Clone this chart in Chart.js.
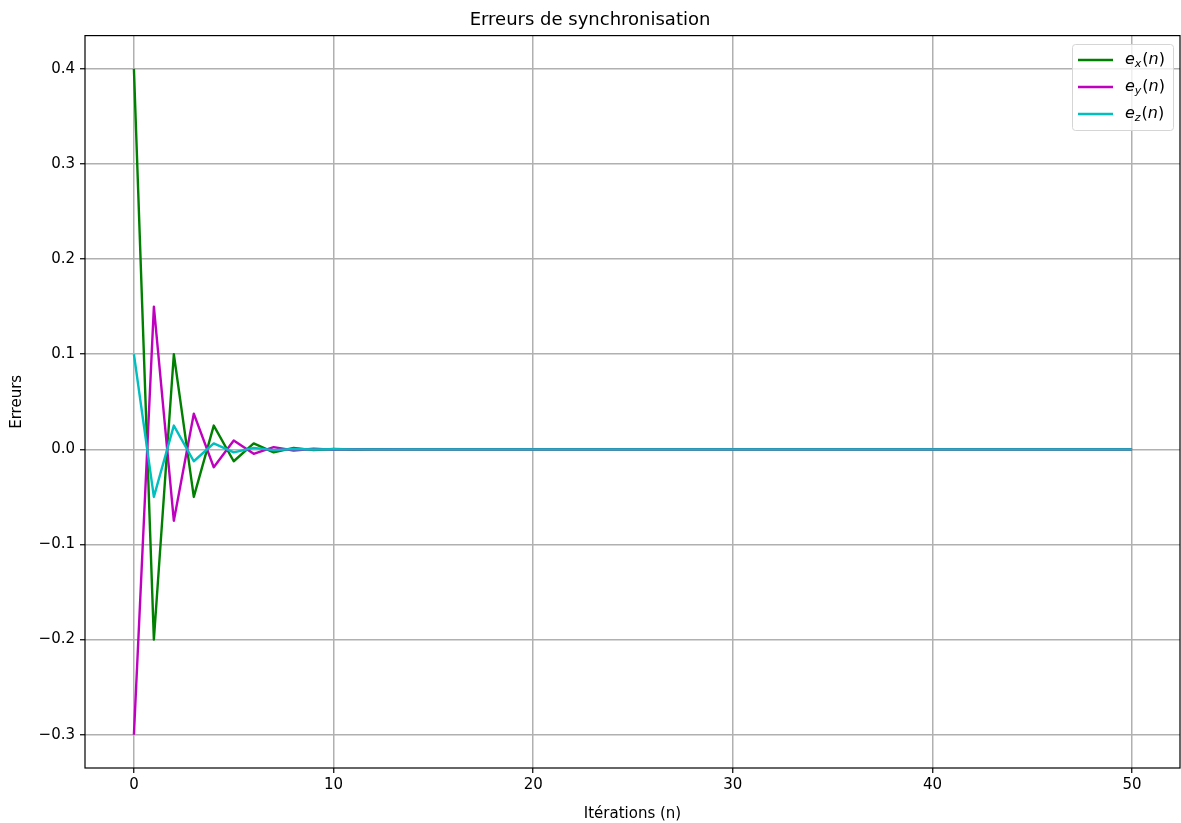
<!DOCTYPE html>
<html><head><meta charset="utf-8">
<script src="https://cdn.jsdelivr.net/npm/chart.js@4"></script>
<style>html,body{margin:0;padding:0;background:#fff}#wrap{width:1181px;height:823px;position:relative}</style>
</head><body><div id="wrap"><canvas id="c"></canvas></div>
<script>
const iterations = [0,1,2,3,4,5,6,7,8,9,10,11,12,13,14,15,16,17,18,19,20,21,22,23,24,25,26,27,28,29,30,31,32,33,34,35,36,37,38,39,40,41,42,43,44,45,46,47,48,49,50];
const ex = [0.4,-0.2,0.1,-0.05,0.025,-0.0125,0.0062,-0.0031,0.0016,-0.0008,0.0004,-0.0002,0.0001,-0.00005,0.00002,0,0,0,0,0,0,0,0,0,0,0,0,0,0,0,0,0,0,0,0,0,0,0,0,0,0,0,0,0,0,0,0,0,0,0,0];
const ey = [-0.3,0.15,-0.075,0.0375,-0.0188,0.0094,-0.0047,0.0023,-0.0012,0.0006,-0.0003,0.00015,-0.00007,0.00004,-0.00002,0,0,0,0,0,0,0,0,0,0,0,0,0,0,0,0,0,0,0,0,0,0,0,0,0,0,0,0,0,0,0,0,0,0,0,0];
const ez = [0.1,-0.05,0.025,-0.0125,0.0062,-0.0031,0.0016,-0.0008,0.0004,-0.0002,0.0001,-0.00005,0.00002,0,0,0,0,0,0,0,0,0,0,0,0,0,0,0,0,0,0,0,0,0,0,0,0,0,0,0,0,0,0,0,0,0,0,0,0,0,0];
const seriesNames = [['e','x'],['e','y'],['e','z']];
const seriesColors = ['#008000','#bf00bf','#00bfbf'];
const xTicks = [0,10,20,30,40,50];
const yTicks = [-0.3,-0.2,-0.1,0.0,0.1,0.2,0.3,0.4];

const FONT = "'DejaVu Sans', sans-serif";
const toPts = arr => arr.map((v,i)=>({x:iterations[i], y:v}));
const datasets = [ex,ey,ez].map((arr,i)=>({
  data: toPts(arr), borderColor: seriesColors[i], backgroundColor: seriesColors[i],
  borderWidth: 2.4, pointRadius: 0, tension: 0, fill: false, order: 3-i,
  borderJoinStyle:'round', borderCapStyle:'butt'
}));

const frame = {
  id:'frame',
  afterDraw(chart){
    const {ctx, chartArea:a} = chart;
    ctx.save();
    ctx.strokeStyle='#000'; ctx.lineWidth=1.2;
    ctx.strokeRect(a.left, a.top, a.right-a.left, a.bottom-a.top);
    // legend
    const bx=1072, by=44, bw=101, bh=86;
    ctx.fillStyle='rgba(255,255,255,0.8)';
    ctx.strokeStyle='#d5d5d5'; ctx.lineWidth=1;
    ctx.beginPath();
    if (ctx.roundRect) ctx.roundRect(bx+0.5,by+0.5,bw,bh,3); else ctx.rect(bx+0.5,by+0.5,bw,bh);
    ctx.fill(); ctx.stroke();
    seriesNames.forEach((n,i)=>{
      const y = 60 + i*27;
      ctx.strokeStyle=seriesColors[i]; ctx.lineWidth=2.4;
      ctx.beginPath(); ctx.moveTo(1078,y); ctx.lineTo(1113,y); ctx.stroke();
      ctx.fillStyle='#000'; ctx.textBaseline='middle'; ctx.textAlign='left';
      let x = 1125;
      ctx.font = "italic 16px " + FONT; ctx.fillText(n[0], x, y); x += ctx.measureText(n[0]).width;
      ctx.font = "italic 11px " + FONT; ctx.fillText(n[1], x, y+4); x += ctx.measureText(n[1]).width+1;
      ctx.font = "16px " + FONT; ctx.fillText('(', x, y); x += ctx.measureText('(').width;
      ctx.font = "italic 16px " + FONT; ctx.fillText('n', x, y); x += ctx.measureText('n').width;
      ctx.font = "16px " + FONT; ctx.fillText(')', x, y);
    });
    ctx.restore();
  }
};

const fmt = v => { const s = Math.abs(v).toFixed(1); return v < -1e-9 ? '\u2212'+s : s; };

new Chart(document.getElementById('c'), {
  type:'line',
  data:{datasets},
  options:{
    responsive:true, maintainAspectRatio:false, animation:false,
    layout:{padding:{left:0,right:1,top:0,bottom:0}},
    plugins:{
      legend:{display:false}, tooltip:{enabled:false},
      title:{display:true, text:'Erreurs de synchronisation', color:'#000',
        font:{family:FONT, size:18, weight:'normal'}, padding:{top:10,bottom:4}}
    },
    scales:{
      x:{type:'linear', min:-2.45, max:52.4,
        afterBuildTicks(s){ s.ticks = xTicks.map(v=>({value:v})); },
        afterFit(s){ s.height = 55; },
        grid:{color:'#b0b0b0', lineWidth:1.5, tickColor:'#000', tickLength:5, tickWidth:1.2, drawTicks:true},
        border:{display:false},
        ticks:{color:'#000', font:{family:FONT,size:15}, padding:3, maxRotation:0, callback:v=>String(v)},
        title:{display:true, text:'Itérations (n)', color:'#000', font:{family:FONT,size:15}, padding:{top:2,bottom:0}}
      },
      y:{type:'linear', min:-0.335, max:0.435,
        afterBuildTicks(s){ s.ticks = yTicks.map(v=>({value:v})); },
        afterFit(s){ s.width = 85; },
        grid:{color:'#b0b0b0', lineWidth:1.5, tickColor:'#000', tickLength:5, tickWidth:1.2, drawTicks:true},
        border:{display:false},
        ticks:{color:'#000', font:{family:FONT,size:15}, padding:5, callback:v=>fmt(v)},
        title:{display:true, text:'Erreurs', color:'#000', font:{family:FONT,size:15}, padding:{top:8,bottom:0}}
      }
    }
  },
  plugins:[frame]
});
</script></body></html>
